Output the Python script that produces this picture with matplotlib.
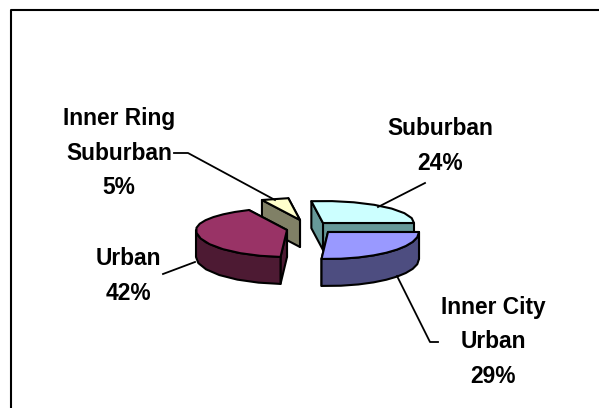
import numpy as np
import matplotlib
matplotlib.use("Agg")
import matplotlib.pyplot as plt
from matplotlib.patches import Polygon

# Data, in the drawing order of the pie (counter-clockwise from the right)
categories = ["Suburban", "Inner Ring\nSuburban", "Urban", "Inner City\nUrban"]
shares = [24, 5, 42, 29]

# Layout / style, in pixels of the 599x408 picture
centres = {"Suburban": (323, 223), "Inner Ring\nSuburban": (300, 220),
           "Urban": (287, 230), "Inner City\nUrban": (328, 232)}
top_colours = {"Suburban": "#CCFFFF", "Inner Ring\nSuburban": "#FFFFCC",
               "Urban": "#993366", "Inner City\nUrban": "#9999FF"}
side_colours = {"Suburban": "#669999", "Inner Ring\nSuburban": "#808066",
                "Urban": "#4D1A33", "Inner City\nUrban": "#4D4D80"}
label_pos = {"Suburban": (440, 146), "Inner Ring\nSuburban": (119, 153),
             "Urban": (128, 276), "Inner City\nUrban": (493, 342)}
leaders = {"Suburban": ((425, 183), (378, 207)),
           "Inner Ring\nSuburban": ((174, 153), (188, 153), (275, 200)),
           "Urban": ((163, 274), (195, 262)),
           "Inner City\nUrban": ((438, 342), (430, 342), (397, 276))}
RX, RY_FAR, RY_NEAR, DEPTH, VIEW = 91, 22, 27, 27, 11
LW = 1.5

fig = plt.figure(figsize=(5.99, 4.08), dpi=100)
ax = fig.add_axes([0, 0, 1, 1])
ax.set_xlim(0, 599)
ax.set_ylim(408, 0)
ax.axis("off")

# Chart frame: only its left and top sides fall inside the picture
ax.plot([10.5, 10.5, 610], [420, 9.5, 9.5], color="black", lw=LW, solid_capstyle="butt", zorder=1)


def view_angle(theta):
    """Angle on the drawn ellipse for a true pie angle, in degrees."""
    return theta + VIEW * np.sin(np.radians(theta)) ** 2


def rim(cx, cy, t):
    r = np.radians(t)
    s = np.sin(r)
    ry = np.where(s > 0, RY_FAR, RY_NEAR)
    return np.column_stack([cx + RX * np.cos(r), cy - ry * s])


def arc(cx, cy, a, b):
    n = max(2, int(abs(b - a) / 11) + 1)
    return rim(cx, cy, view_angle(np.linspace(a, b, n)))


def poly(points, colour, z):
    ax.add_patch(Polygon(points, closed=True, facecolor=colour, edgecolor="black",
                         lw=LW, joinstyle="round", zorder=z))


angles = np.concatenate([[0], np.cumsum(shares) * 3.6])
down = np.array([0, DEPTH])
layer = {"Inner Ring\nSuburban": 2, "Suburban": 3, "Urban": 4, "Inner City\nUrban": 5}

for name, a, b in zip(categories, angles[:-1], angles[1:]):
    cx, cy = centres[name]
    z = layer[name]
    apex = np.array([[cx, cy]], float)
    edge = arc(cx, cy, a, b)
    side = side_colours[name]
    # the two cut walls
    for end in (edge[0], edge[-1]):
        wall = np.vstack([apex, [end], [end + down], apex + down])
        poly(wall, side, z)
    # the outer wall, only where the rim faces the viewer
    lo, hi = max(a, 180), min(b, 360)
    if hi > lo:
        front = arc(cx, cy, lo, hi)
        poly(np.vstack([front, (front + down)[::-1]]), side, z + 0.1)
    # the top face
    poly(np.vstack([apex, edge]), top_colours[name], z + 0.2)

for name, share in zip(categories, shares):
    x, y = label_pos[name]
    ax.text(x, y, f"{name}\n{share}%", ha="center", va="center", fontsize=16.4,
            family="Liberation Sans", fontweight="bold", color="black",
            linespacing=1.64, zorder=8)
    pts = np.array(leaders[name])
    ax.plot(pts[:, 0], pts[:, 1], color="black", lw=1.3, zorder=7)

fig.savefig("out.png", dpi=100)
